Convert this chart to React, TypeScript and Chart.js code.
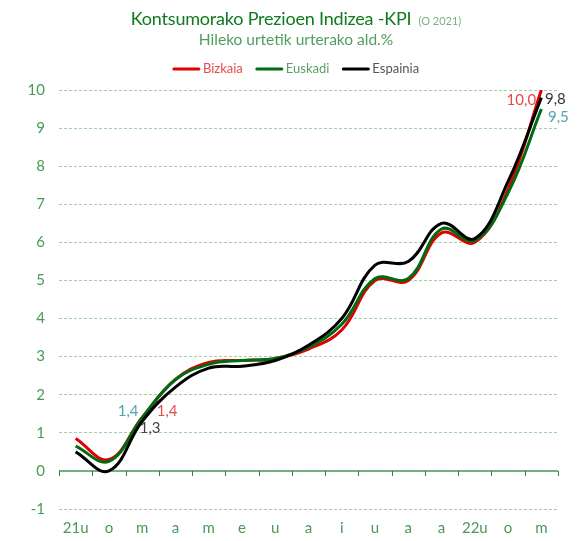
import React, { useEffect, useRef } from "react";
import { Chart, registerables } from "chart.js";

Chart.register(...registerables);

const categories = ["21u", "o", "m", "a", "m", "e", "u", "a", "i", "u", "a", "a", "22u", "o", "m"];
const bizkaia = [0.85, 0.3, 1.4, 2.4, 2.85, 2.9, 2.95, 3.2, 3.7, 5.0, 5.0, 6.25, 6.0, 7.4, 10.0];
const euskadi = [0.65, 0.25, 1.4, 2.4, 2.8, 2.9, 2.95, 3.25, 3.85, 5.05, 5.05, 6.35, 6.05, 7.3, 9.5];
const espainia = [0.5, 0.0, 1.3, 2.2, 2.7, 2.75, 2.9, 3.3, 4.0, 5.4, 5.5, 6.5, 6.1, 7.6, 9.8];
const seriesNames = ["Bizkaia", "Euskadi", "Espainia"];
const yMin = -1;
const yMax = 10;

const titleText = "Kontsumorako Prezioen Indizea -KPI";
const titleNote = "(O 2021)";
const subtitleText = "Hileko urtetik urterako ald.%";

// labelled points: dataset index, point index, offset, colour
const pointLabels = [
  { ds: 1, idx: 2, dx: -14, dy: -6, color: "#4ba6ad" },
  { ds: 0, idx: 2, dx: 25, dy: -6, color: "#e84a4a" },
  { ds: 2, idx: 2, dx: 8, dy: 7, color: "#444444" },
  { ds: 0, idx: 14, dx: -20, dy: 10, color: "#e84a4a" },
  { ds: 2, idx: 14, dx: 14, dy: 2, color: "#333333" },
  { ds: 1, idx: 14, dx: 17, dy: 8, color: "#4ba6ad" },
];

const FONT = "Lato, 'Noto Sans', sans-serif";

const decorPlugin = {
  id: "decor",
  afterDraw(chart: any) {
    const ctx = chart.ctx;
    const cx = 288;
    ctx.save();
    // title
    ctx.textBaseline = "middle";
    ctx.letterSpacing = "-0.2px";
    ctx.font = `18px ${FONT}`;
    const w1 = ctx.measureText(titleText).width;
    ctx.letterSpacing = "0px";
    ctx.font = `11px ${FONT}`;
    const w2 = ctx.measureText(titleNote).width;
    const gap = 7;
    const start = cx - (w1 + gap + w2) / 2;
    ctx.textAlign = "left";
    ctx.letterSpacing = "-0.2px";
    ctx.font = `18px ${FONT}`;
    ctx.fillStyle = "#0f7a1e";
    ctx.fillText(titleText, start, 11);
    ctx.letterSpacing = "0px";
    ctx.font = `11px ${FONT}`;
    ctx.fillStyle = "#7fae85";
    ctx.fillText(titleNote, start + w1 + gap, 13);
    // subtitle
    ctx.textAlign = "center";
    ctx.font = `15.5px ${FONT}`;
    ctx.fillStyle = "#4f9e5c";
    ctx.fillText(subtitleText, cx, 32);

    // legend
    const legendColors = ["#e84a4a", "#5a9e65", "#555555"];
    ctx.font = `13px ${FONT}`;
    const sw = 27;
    const tg = 3;
    const ig = 13;
    const items = chart.data.datasets.map((d: any, i: number) => ({
      label: d.label,
      line: d.borderColor,
      color: legendColors[i],
      w: sw + tg + ctx.measureText(d.label).width,
    }));
    const total = items.reduce((a: number, b: any) => a + b.w, 0) + ig * (items.length - 1);
    let x = cx - total / 2;
    const ly = 61;
    ctx.textAlign = "left";
    items.forEach((it: any) => {
      ctx.strokeStyle = it.line;
      ctx.lineWidth = 3;
      ctx.lineCap = "round";
      ctx.beginPath();
      ctx.moveTo(x + 1, ly);
      ctx.lineTo(x + sw - 1, ly);
      ctx.stroke();
      ctx.fillStyle = it.color;
      ctx.fillText(it.label, x + sw + tg, ly);
      x += it.w + ig;
    });

    // point labels
    ctx.font = `15px ${FONT}`;
    ctx.textAlign = "center";
    ctx.textBaseline = "middle";
    pointLabels.forEach((pl) => {
      const meta = chart.getDatasetMeta(pl.ds);
      const el = meta.data[pl.idx];
      const v = chart.data.datasets[pl.ds].data[pl.idx] as number;
      ctx.fillStyle = pl.color;
      ctx.fillText(v.toFixed(1).replace(".", ","), el.x + pl.dx, el.y + pl.dy);
    });
    ctx.restore();
  },
  beforeDatasetsDraw(chart: any) {
    const ctx = chart.ctx;
    const xs = chart.scales.x;
    const ys = chart.scales.y;
    const y0 = ys.getPixelForValue(0);
    ctx.save();
    ctx.strokeStyle = "#77b07f";
    ctx.lineWidth = 2;
    ctx.beginPath();
    ctx.moveTo(chart.chartArea.left, y0);
    ctx.lineTo(chart.chartArea.right, y0);
    ctx.stroke();
    ctx.strokeStyle = "#2f7a3a";
    ctx.lineWidth = 1;
    for (let i = 0; i <= categories.length; i++) {
      const px = Math.round(xs.getPixelForValue(i - 0.5)) + 0.5;
      ctx.beginPath();
      ctx.moveTo(px, y0);
      ctx.lineTo(px, y0 + 5);
      ctx.stroke();
    }
    ctx.restore();
  },
};

export default function App() {
  const ref = useRef<HTMLCanvasElement>(null);
  useEffect(() => {
    if (!ref.current) return;
    const chart = new Chart(ref.current, {
      type: "line",
      data: {
        labels: categories,
        datasets: [
          { label: seriesNames[0], data: bizkaia, borderColor: "#e00000", order: 3 },
          { label: seriesNames[1], data: euskadi, borderColor: "#006b12", order: 2 },
          { label: seriesNames[2], data: espainia, borderColor: "#000000", order: 1 },
        ].map((d) => ({
          ...d,
          borderWidth: 3,
          tension: 0.4,
          pointRadius: 0,
          fill: false,
        })),
      },
      options: {
        animation: false,
        responsive: true,
        maintainAspectRatio: false,
        layout: { padding: { top: 82, right: 12, left: 0, bottom: 0 } },
        plugins: {
          legend: { display: false },
          title: { display: false },
          tooltip: { enabled: false },
        },
        scales: {
          x: {
            offset: true,
            grid: { display: false, drawTicks: false },
            border: { display: false },
            ticks: {
              color: "#4a9a55",
              font: { family: FONT, size: 15 },
              padding: 10,
              maxRotation: 0,
              autoSkip: false,
            },
            afterFit: (s: any) => {
              s.height = 24;
            },
          },
          y: {
            min: yMin,
            max: yMax,
            grid: {
              drawTicks: false,
              color: (c: any) => (c.tick && c.tick.value === 0 ? "rgba(0,0,0,0)" : "#a3cfa8"),
              lineWidth: 1,
            },
            border: { display: false, dash: [3, 2] },
            ticks: {
              stepSize: 1,
              color: "#4a9a55",
              font: { family: FONT, size: 15 },
              padding: 14,
            },
            afterFit: (s: any) => {
              s.width = 51;
            },
          },
        },
      },
      plugins: [decorPlugin],
    });
    return () => chart.destroy();
  }, []);
  return (
    <div style={{ width: 562, height: 525, position: "relative" }}>
      <canvas ref={ref} />
    </div>
  );
}
